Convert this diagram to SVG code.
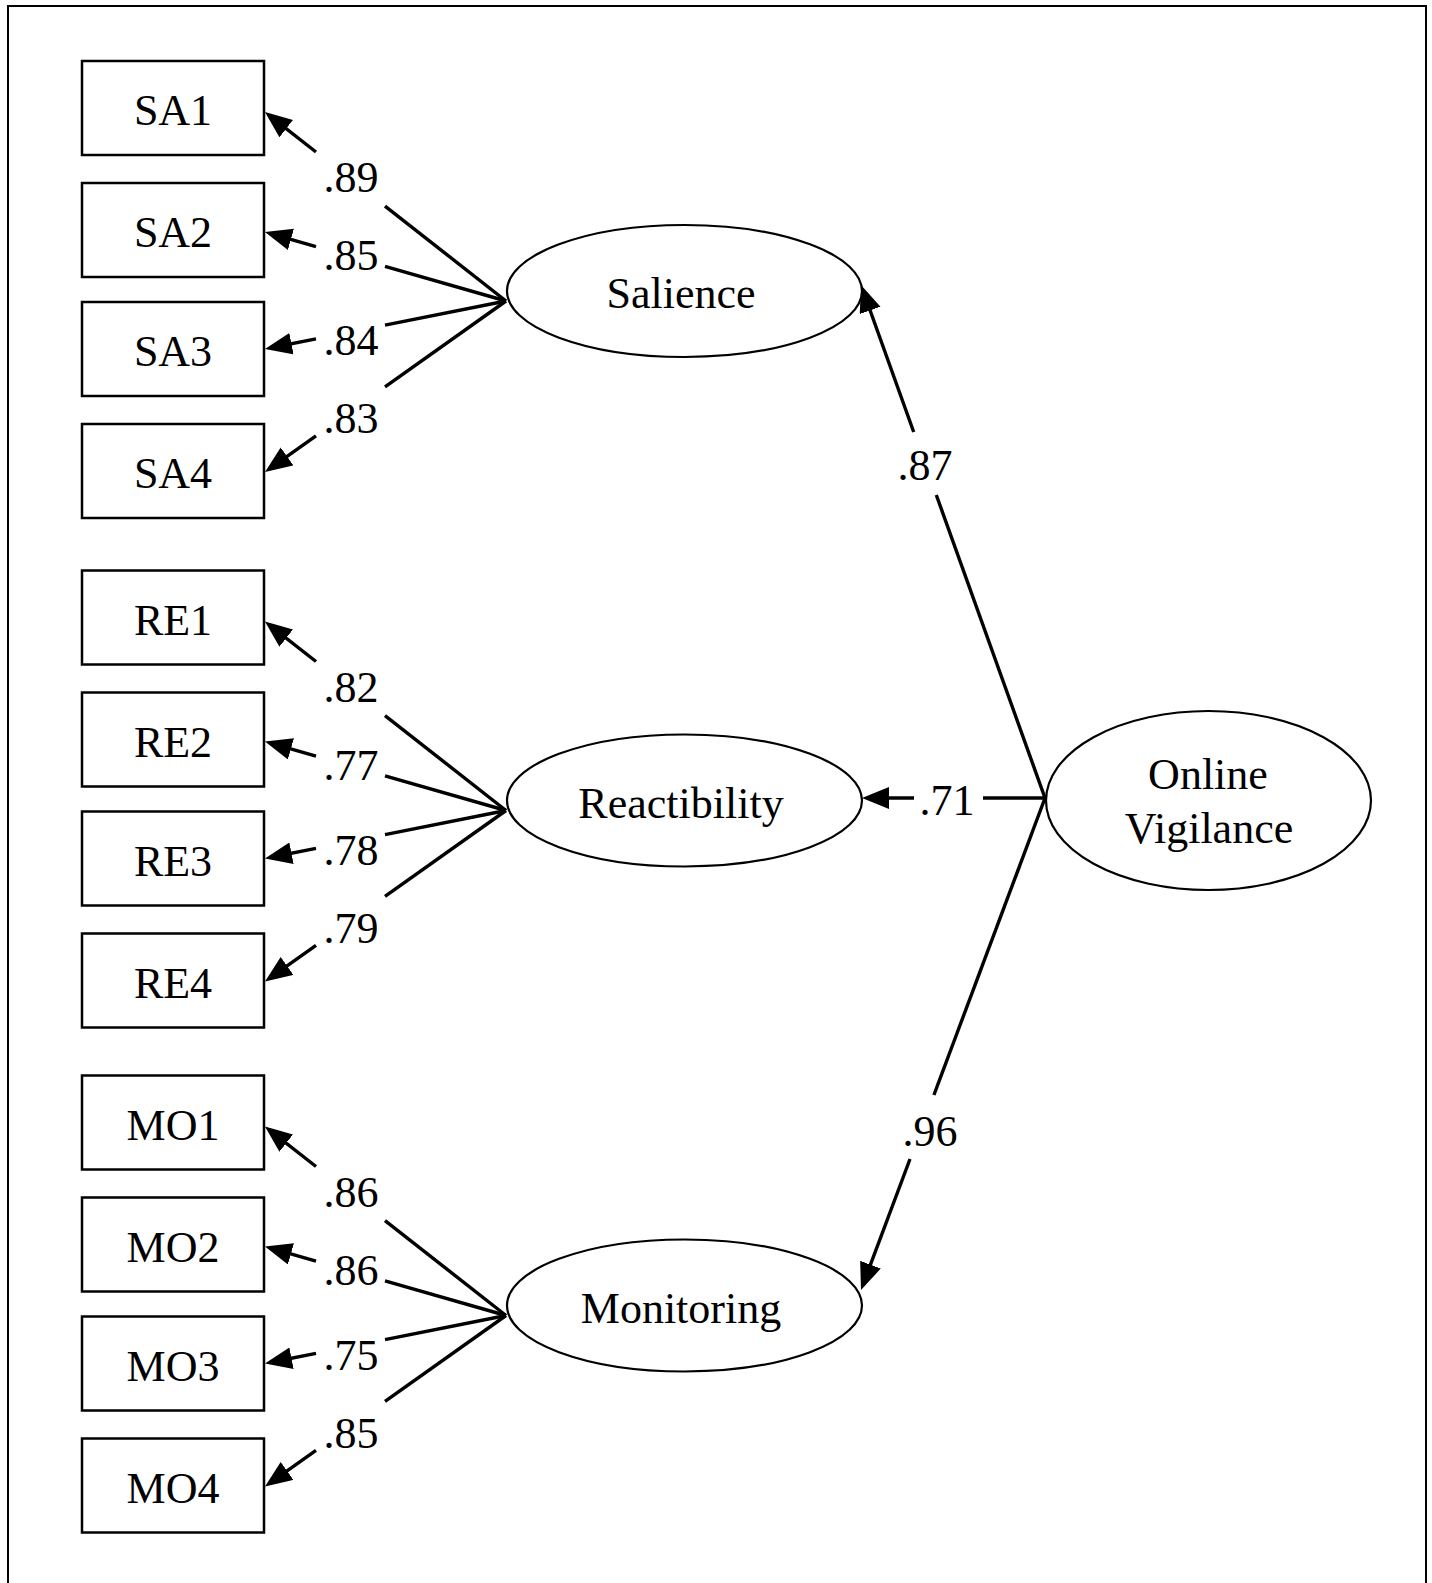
<svg xmlns="http://www.w3.org/2000/svg" width="1432" height="1583" viewBox="0 0 1432 1583">
<style>
text{font-family:"Liberation Serif","Times New Roman",serif;font-size:44px;fill:#000;text-anchor:middle}
.box{fill:#fff;stroke:#000;stroke-width:2.5}
.lat{fill:#fff;stroke:#000;stroke-width:2.2}
.c line{stroke:#000;stroke-width:3.4;fill:none}
.c line.a{marker-end:url(#ah)}
</style>
<defs>
<marker id="ah" markerUnits="userSpaceOnUse" markerWidth="30" markerHeight="24" refX="22" refY="11" orient="auto">
<path d="M0,0 L27,11 L0,22 z" fill="#000"/>
</marker>
</defs>
<rect x="0" y="0" width="1432" height="1583" fill="#fff"/>
<rect x="8" y="6" width="1418" height="1600" fill="none" stroke="#000" stroke-width="2"/>

<g class="c" id="connectors">
<line class="a" x1="316" y1="152" x2="268.9" y2="115.1"/><line x1="385" y1="206.1" x2="506" y2="301"/>
<line class="a" x1="316" y1="246.6" x2="269.8" y2="233.4"/><line x1="385" y1="266.4" x2="506" y2="301"/>
<line class="a" x1="316" y1="338.8" x2="269.9" y2="348"/><line x1="385" y1="325.1" x2="506" y2="301"/>
<line class="a" x1="316" y1="435.8" x2="269.1" y2="469.1"/><line x1="385" y1="386.9" x2="506" y2="301"/>
<line class="a" x1="316" y1="661.5" x2="268.9" y2="624.6"/><line x1="385" y1="715.6" x2="506" y2="810.5"/>
<line class="a" x1="316" y1="756.1" x2="269.8" y2="742.9"/><line x1="385" y1="775.9" x2="506" y2="810.5"/>
<line class="a" x1="316" y1="848.3" x2="269.9" y2="857.5"/><line x1="385" y1="834.6" x2="506" y2="810.5"/>
<line class="a" x1="316" y1="945.3" x2="269.1" y2="978.6"/><line x1="385" y1="896.4" x2="506" y2="810.5"/>
<line class="a" x1="316" y1="1166.5" x2="268.9" y2="1129.6"/><line x1="385" y1="1220.6" x2="506" y2="1315.5"/>
<line class="a" x1="316" y1="1261.1" x2="269.8" y2="1247.9"/><line x1="385" y1="1280.9" x2="506" y2="1315.5"/>
<line class="a" x1="316" y1="1353.3" x2="269.9" y2="1362.5"/><line x1="385" y1="1339.6" x2="506" y2="1315.5"/>
<line class="a" x1="316" y1="1450.3" x2="269.1" y2="1483.6"/><line x1="385" y1="1401.4" x2="506" y2="1315.5"/>
<line class="a" x1="913.7" y1="432" x2="862.7" y2="289.7"/><line x1="936.3" y1="495" x2="1045" y2="798"/>
<line class="a" x1="914" y1="798" x2="867" y2="798"/><line x1="983" y1="798" x2="1045" y2="798"/>
<line x1="1045" y1="798" x2="933.9" y2="1095"/><line class="a" x1="910" y1="1159" x2="862.75" y2="1285.3"/>
<g id="loadings">
<text x="351" y="192">.89</text><text x="351" y="270">.85</text><text x="351" y="355">.84</text><text x="351" y="433">.83</text>
<text x="351" y="701.5">.82</text><text x="351" y="779.5">.77</text><text x="351" y="864.5">.78</text><text x="351" y="942.5">.79</text>
<text x="351" y="1206.5">.86</text><text x="351" y="1284.5">.86</text><text x="351" y="1369.5">.75</text><text x="351" y="1447.5">.85</text>
<text x="925" y="480">.87</text><text x="947" y="815">.71</text><text x="930" y="1146">.96</text>
</g>
</g>

<g id="SA1"><rect class="box" x="82" y="61" width="182" height="94"/><text x="173" y="125">SA1</text></g>
<g id="SA2"><rect class="box" x="82" y="183" width="182" height="94"/><text x="173" y="247">SA2</text></g>
<g id="SA3"><rect class="box" x="82" y="302" width="182" height="94"/><text x="173" y="366">SA3</text></g>
<g id="SA4"><rect class="box" x="82" y="424" width="182" height="94"/><text x="173" y="488">SA4</text></g>

<g id="RE1"><rect class="box" x="82" y="570.5" width="182" height="94"/><text x="173" y="634.5">RE1</text></g>
<g id="RE2"><rect class="box" x="82" y="692.5" width="182" height="94"/><text x="173" y="756.5">RE2</text></g>
<g id="RE3"><rect class="box" x="82" y="811.5" width="182" height="94"/><text x="173" y="875.5">RE3</text></g>
<g id="RE4"><rect class="box" x="82" y="933.5" width="182" height="94"/><text x="173" y="997.5">RE4</text></g>

<g id="MO1"><rect class="box" x="82" y="1075.5" width="182" height="94"/><text x="173" y="1139.5">MO1</text></g>
<g id="MO2"><rect class="box" x="82" y="1197.5" width="182" height="94"/><text x="173" y="1261.5">MO2</text></g>
<g id="MO3"><rect class="box" x="82" y="1316.5" width="182" height="94"/><text x="173" y="1380.5">MO3</text></g>
<g id="MO4"><rect class="box" x="82" y="1438.5" width="182" height="94"/><text x="173" y="1502.5">MO4</text></g>

<g id="Salience"><ellipse class="lat" cx="684.5" cy="291" rx="177.5" ry="66"/><text x="681" y="308">Salience</text></g>
<g id="Reactibility"><ellipse class="lat" cx="684.5" cy="800.5" rx="177.5" ry="66"/><text x="681" y="817.5">Reactibility</text></g>
<g id="Monitoring"><ellipse class="lat" cx="684.5" cy="1305.5" rx="177.5" ry="66"/><text x="681" y="1322.5">Monitoring</text></g>
<g id="OnlineVigilance"><ellipse class="lat" cx="1208.5" cy="800.5" rx="162.5" ry="89.5"/><text x="1208" y="789">Online</text><text x="1209" y="843">Vigilance</text></g>
</svg>
